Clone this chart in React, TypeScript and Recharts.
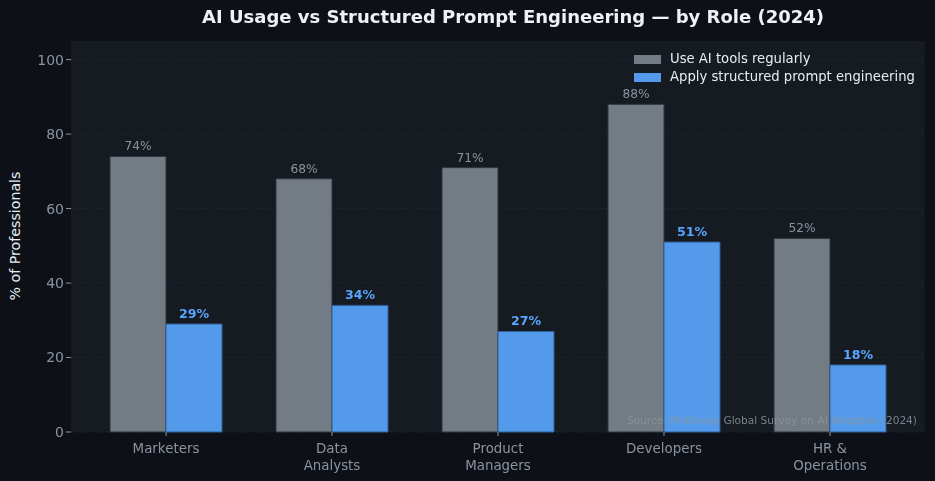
import React from "react";
import { BarChart, Bar, XAxis, YAxis, CartesianGrid, LabelList } from "recharts";

const roles = ["Marketers", "Data\nAnalysts", "Product\nManagers", "Developers", "HR &\nOperations"];
const useAI = [74, 68, 71, 88, 52];
const structured = [29, 34, 27, 51, 18];
const yTicks = [0, 20, 40, 60, 80, 100];

const data = roles.map((r, i) => ({ role: r, useAI: useAI[i], structured: structured[i] }));

const FONT = "'DejaVu Sans', sans-serif";
const GRAY_TEXT = "#8b949e";
const BAR_GRAY = "#737b84";
const BAR_BLUE = "#539bea";
const LABEL_BLUE = "#58a6ff";

const XTick = (props: any) => {
  const { x, y, payload } = props;
  const lines = String(payload.value).split("\n");
  return (
    <g>
      <line x1={x} x2={x} y1={y - 8} y2={y - 4} stroke={GRAY_TEXT} />
      <text x={x} y={y + 13} textAnchor="middle" fill={GRAY_TEXT} fontSize={13.4} fontFamily={FONT}>
        {lines.map((l, i) => (
          <tspan key={i} x={x} dy={i === 0 ? 0 : 17}>{l}</tspan>
        ))}
      </text>
    </g>
  );
};

const hGen = (p: any) => {
  const s = p?.yAxis?.scale;
  if (s && typeof s === "function") return yTicks.map((t) => s(t));
  if (s && typeof s.map === "function") return yTicks.map((t) => s.map(t));
  return [];
};

export default function App() {
  return (
    <div style={{ position: "fixed", left: 0, top: 0, width: 935, height: 481, background: "#0d1017", fontFamily: FONT }}>
      <div style={{ position: "absolute", top: 6, left: 0, width: 1026, textAlign: "center", color: "#eef2f6", fontWeight: "bold", fontSize: 18 }}>
        AI Usage vs Structured Prompt Engineering — by Role (2024)
      </div>
      <div
        style={{
          position: "absolute",
          left: 15,
          top: 236,
          transform: "translate(-50%, -50%) rotate(-90deg)",
          color: "#e6edf3",
          fontSize: 14.2,
          whiteSpace: "nowrap",
        }}
      >
        % of Professionals
      </div>
      <BarChart
        width={935}
        height={481}
        data={data}
        margin={{ top: 41, right: 10, left: 21, bottom: 0 }}
        barCategoryGap={27}
        barGap={0}
      >
        <CartesianGrid
          vertical={false}
          fill="#161a21"
          stroke="#242932"
          strokeDasharray="2 3"
          horizontalCoordinatesGenerator={hGen}
        />
        <XAxis
          dataKey="role"
          interval={0}
          axisLine={false}
          tickLine={false}
          height={49}
          padding={{ left: 12, right: 12 }}
          tick={<XTick />}
        />
        <YAxis
          domain={[0, 105]}
          ticks={yTicks}
          width={50}
          axisLine={false}
          tickLine={{ stroke: GRAY_TEXT }}
          tickSize={5}
          tick={{ fill: GRAY_TEXT, fontSize: 14, fontFamily: FONT }}
        />
        <Bar dataKey="useAI" fill={BAR_GRAY} stroke="#2f343b" strokeWidth={1} isAnimationActive={false}>
          <LabelList dataKey="useAI" position="top" offset={6} formatter={(v: any) => `${v}%`} fill={GRAY_TEXT} fontSize={12.2} fontFamily={FONT} />
        </Bar>
        <Bar dataKey="structured" fill={BAR_BLUE} stroke="#2e5f96" strokeWidth={1} isAnimationActive={false}>
          <LabelList dataKey="structured" position="top" offset={6} formatter={(v: any) => `${v}%`} fill={LABEL_BLUE} fontSize={12.6} fontWeight="bold" fontFamily={FONT} />
        </Bar>
      </BarChart>
      <div style={{ position: "absolute", top: 50, left: 634, fontSize: 13.2, color: "#e6edf3", lineHeight: "18px", whiteSpace: "nowrap" }}>
        <div style={{ display: "flex", alignItems: "center" }}>
          <span style={{ width: 27, height: 9, background: BAR_GRAY, display: "inline-block", marginRight: 9 }} />
          Use AI tools regularly
        </div>
        <div style={{ display: "flex", alignItems: "center" }}>
          <span style={{ width: 27, height: 9, background: BAR_BLUE, display: "inline-block", marginRight: 9 }} />
          Apply structured prompt engineering
        </div>
      </div>
      <div style={{ position: "absolute", right: 18, top: 414, color: "rgba(139,148,158,0.85)", fontSize: 10.6, whiteSpace: "nowrap" }}>
        Source: McKinsey Global Survey on AI Adoption (2024)
      </div>
    </div>
  );
}
